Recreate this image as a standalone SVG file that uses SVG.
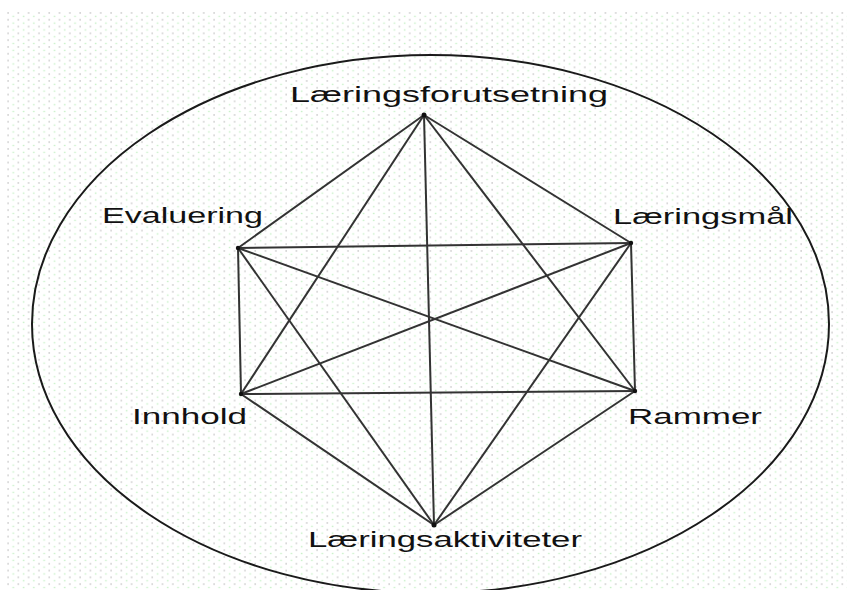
<svg xmlns="http://www.w3.org/2000/svg" width="847" height="590" viewBox="0 0 847 590">
  <defs>
    <pattern id="dots" patternUnits="userSpaceOnUse" x="7" y="12" width="10.3" height="6.8">
      <rect x="0.3" y="0.3" width="1.6" height="1.3" fill="#c4c4c4"/>
      <rect x="5.45" y="3.7" width="1.6" height="1.3" fill="#c6f0c6"/>
    </pattern>
    <style>
      .lbl { font-family: "Liberation Sans", Arial, sans-serif; font-size: 22px; fill: #111; }
      .edge { stroke: #333333; stroke-width: 2; fill: none; }
      .vx { fill: #111; }
      .ring { stroke: #1a1a1a; stroke-width: 2; fill: none; }
    </style>
  </defs>
  <rect width="847" height="590" fill="#ffffff"/>
  <rect x="7" y="12" width="840" height="578" fill="url(#dots)"/>
  <ellipse class="ring" cx="430.5" cy="324" rx="398.5" ry="269"/>

  <g id="connectors">
    <line class="edge" x1="424" y1="115" x2="238" y2="248"/>
    <line class="edge" x1="424" y1="115" x2="631" y2="243"/>
    <line class="edge" x1="424" y1="115" x2="241" y2="394"/>
    <line class="edge" x1="424" y1="115" x2="635" y2="391"/>
    <line class="edge" x1="424" y1="115" x2="434" y2="525"/>
    <line class="edge" x1="238" y1="248" x2="631" y2="243"/>
    <line class="edge" x1="238" y1="248" x2="241" y2="394"/>
    <line class="edge" x1="238" y1="248" x2="635" y2="391"/>
    <line class="edge" x1="238" y1="248" x2="434" y2="525"/>
    <line class="edge" x1="631" y1="243" x2="241" y2="394"/>
    <line class="edge" x1="631" y1="243" x2="635" y2="391"/>
    <line class="edge" x1="631" y1="243" x2="434" y2="525"/>
    <line class="edge" x1="241" y1="394" x2="635" y2="391"/>
    <line class="edge" x1="241" y1="394" x2="434" y2="525"/>
    <line class="edge" x1="635" y1="391" x2="434" y2="525"/>
  </g>

  <g id="node-laeringsforutsetning">
    <circle class="vx" cx="424" cy="115" r="2.5"/>
    <text class="lbl" x="290" y="102" textLength="318" lengthAdjust="spacingAndGlyphs">Læringsforutsetning</text>
  </g>
  <g id="node-evaluering">
    <circle class="vx" cx="238" cy="248" r="2.2"/>
    <text class="lbl" x="102" y="223" textLength="161" lengthAdjust="spacingAndGlyphs">Evaluering</text>
  </g>
  <g id="node-laeringsmaal">
    <circle class="vx" cx="631" cy="243" r="2.2"/>
    <text class="lbl" x="613" y="224" textLength="180" lengthAdjust="spacingAndGlyphs">Læringsmål</text>
  </g>
  <g id="node-innhold">
    <circle class="vx" cx="241" cy="394" r="2.2"/>
    <text class="lbl" x="132" y="424" textLength="115" lengthAdjust="spacingAndGlyphs">Innhold</text>
  </g>
  <g id="node-rammer">
    <circle class="vx" cx="635" cy="391" r="2.2"/>
    <text class="lbl" x="628" y="424" textLength="134" lengthAdjust="spacingAndGlyphs">Rammer</text>
  </g>
  <g id="node-laeringsaktiviteter">
    <circle class="vx" cx="434" cy="525" r="2.5"/>
    <text class="lbl" x="308" y="547" textLength="274" lengthAdjust="spacingAndGlyphs">Læringsaktiviteter</text>
  </g>
</svg>
